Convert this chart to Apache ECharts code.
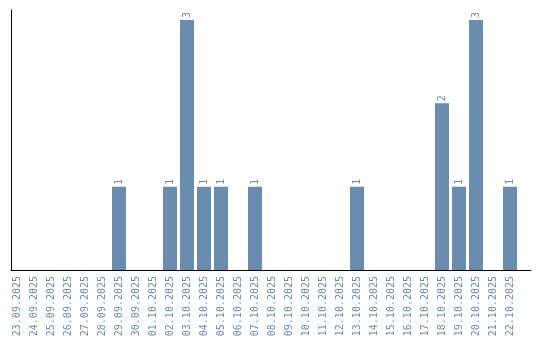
<!DOCTYPE html>
<html><head><meta charset="utf-8">
<script src="https://cdn.jsdelivr.net/npm/echarts@6/dist/echarts.min.js"></script>
<style>html,body{margin:0;padding:0;background:#fff}#c{width:540px;height:340px}</style>
</head><body><div id="c"></div>
<script>
const categories = ["23.09.2025","24.09.2025","25.09.2025","26.09.2025","27.09.2025","28.09.2025","29.09.2025","30.09.2025","01.10.2025","02.10.2025","03.10.2025","04.10.2025","05.10.2025","06.10.2025","07.10.2025","08.10.2025","09.10.2025","10.10.2025","11.10.2025","12.10.2025","13.10.2025","14.10.2025","15.10.2025","16.10.2025","17.10.2025","18.10.2025","19.10.2025","20.10.2025","21.10.2025","22.10.2025"];
const values = [0,0,0,0,0,0,1,0,0,1,3,1,1,0,1,0,0,0,0,0,1,0,0,0,0,2,1,3,0,1];
const yMax = 3.12;

const barColor = '#6a8caf';
const textColor = '#6a8caf';
const font = 'DejaVu Sans Mono';

const chart = echarts.init(document.getElementById('c'), null, {renderer:'canvas'});
chart.setOption({
  animation: false,
  grid: [
    {left: 8.5, width: 510, top: 10, bottom: 70},
    {left: 11, right: 9, top: 10, bottom: 70}
  ],
  xAxis: [
    {type:'category', gridIndex:0, data: categories, boundaryGap: true,
     axisLine:{show:false}, axisTick:{show:false},
     axisLabel:{rotate:90, interval:0, color:textColor, fontFamily:font, fontSize:10, margin:6}},
    {type:'value', gridIndex:1, min:0, max:1, axisLine:{show:true, lineStyle:{color:'#000', width:1}},
     axisTick:{show:false}, axisLabel:{show:false}, splitLine:{show:false}}
  ],
  yAxis: [
    {type:'value', gridIndex:0, min:0, max:yMax, axisLine:{show:false}, axisTick:{show:false},
     axisLabel:{show:false}, splitLine:{show:false}},
    {type:'value', gridIndex:1, min:0, max:1, axisLine:{show:true, lineStyle:{color:'#000', width:1}},
     axisTick:{show:false}, axisLabel:{show:false}, splitLine:{show:false}}
  ],
  series: [{
    type:'bar', xAxisIndex:0, yAxisIndex:0, data: values, barWidth:14,
    itemStyle:{color:barColor},
    label:{show:true, position:'top', rotate:90, align:'left', verticalAlign:'middle', distance:2,
      color:textColor, fontFamily:font, fontSize:10,
      formatter: p => p.value ? String(p.value) : ''}
  }]
});
</script></body></html>
